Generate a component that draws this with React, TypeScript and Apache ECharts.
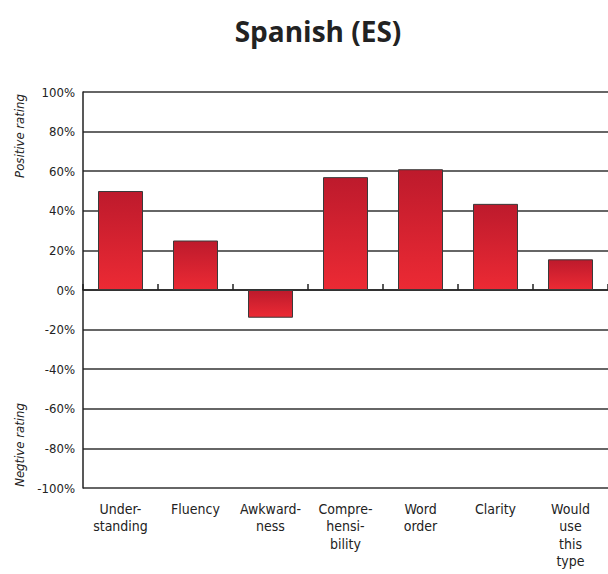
import React, { useEffect, useRef } from "react";
import * as echarts from "echarts";

const categories = [
  "Under-\nstanding",
  "Fluency",
  "Awkward-\nness",
  "Compre-\nhensi-\nbility",
  "Word\norder",
  "Clarity",
  "Would\nuse\nthis\ntype",
];
const values = [50, 25, -14, 57, 61, 43.5, 15.5];
const yMin = -100;
const yMax = 100;
const yStep = 20;
const titleText = "Spanish (ES)";
const positiveLabel = "Positive rating";
const negativeLabel = "Negtive rating";

const FONT = "'DejaVu Sans Condensed', 'Liberation Sans Narrow', sans-serif";

export default function App() {
  const ref = useRef<HTMLDivElement>(null);
  useEffect(() => {
    if (!ref.current) return;
    const chart = echarts.init(ref.current, null, { renderer: "svg" });
    chart.setOption({
      animation: false,
      backgroundColor: "#ffffff",
      grid: { left: 83, top: 92, right: -3, bottom: 86, containLabel: false },
      xAxis: [
        {
          type: "category",
          data: categories,
          position: "bottom",
          axisLine: { show: true, onZero: true, lineStyle: { color: "#222", width: 1.5 } },
          axisTick: { show: true, inside: true, length: 6, lineStyle: { color: "#222", width: 1.5 } },
          axisLabel: { show: false },
          splitLine: { show: false },
        },
        {
          type: "category",
          data: categories,
          position: "bottom",
          axisLine: { show: false, onZero: false },
          axisTick: { show: false },
          axisLabel: {
            show: true,
            interval: 0,
            margin: 12,
            fontFamily: FONT,
            fontSize: 14,
            lineHeight: 17.5,
            color: "#222",
            verticalAlign: "top",
          },
          splitLine: { show: false },
        },
      ],
      yAxis: {
        type: "value",
        min: yMin,
        max: yMax,
        interval: yStep,
        axisLine: { show: true, lineStyle: { color: "#222", width: 1.5 } },
        axisTick: { show: false },
        axisLabel: {
          formatter: "{value}%",
          fontFamily: FONT,
          fontSize: 13,
          color: "#222",
          margin: 8,
        },
        splitLine: { show: true, lineStyle: { color: "#333", width: 1.6 } },
      },
      series: [
        {
          type: "bar",
          data: values,
          xAxisIndex: 0,
          barWidth: "60%",
          itemStyle: {
            color: new echarts.graphic.LinearGradient(0, 0, 0, 1, [
              { offset: 0, color: "#bd1a2c" },
              { offset: 1, color: "#ec2a34" },
            ]),
            borderColor: "#3a3a3a",
            borderWidth: 1,
          },
        },
      ],
      graphic: [
        {
          type: "text",
          x: 318,
          y: 31,
          style: {
            text: titleText,
            fontFamily: "'Open Sans', sans-serif",
            fontWeight: "bold",
            fontSize: 28,
            fill: "#222",
            textAlign: "center",
            textVerticalAlign: "middle",
          },
        },
        {
          type: "text",
          x: 19,
          y: 136,
          rotation: Math.PI / 2,
          style: {
            text: positiveLabel,
            fontFamily: FONT,
            fontStyle: "italic",
            fontSize: 13,
            fill: "#222",
            textAlign: "center",
            textVerticalAlign: "middle",
          },
        },
        {
          type: "text",
          x: 19,
          y: 445,
          rotation: Math.PI / 2,
          style: {
            text: negativeLabel,
            fontFamily: FONT,
            fontStyle: "italic",
            fontSize: 13,
            fill: "#222",
            textAlign: "center",
            textVerticalAlign: "middle",
          },
        },
      ],
    });
    return () => chart.dispose();
  }, []);
  return (
    <div
      ref={ref}
      style={{ position: "absolute", left: 0, top: 0, width: 608, height: 574 }}
    />
  );
}
